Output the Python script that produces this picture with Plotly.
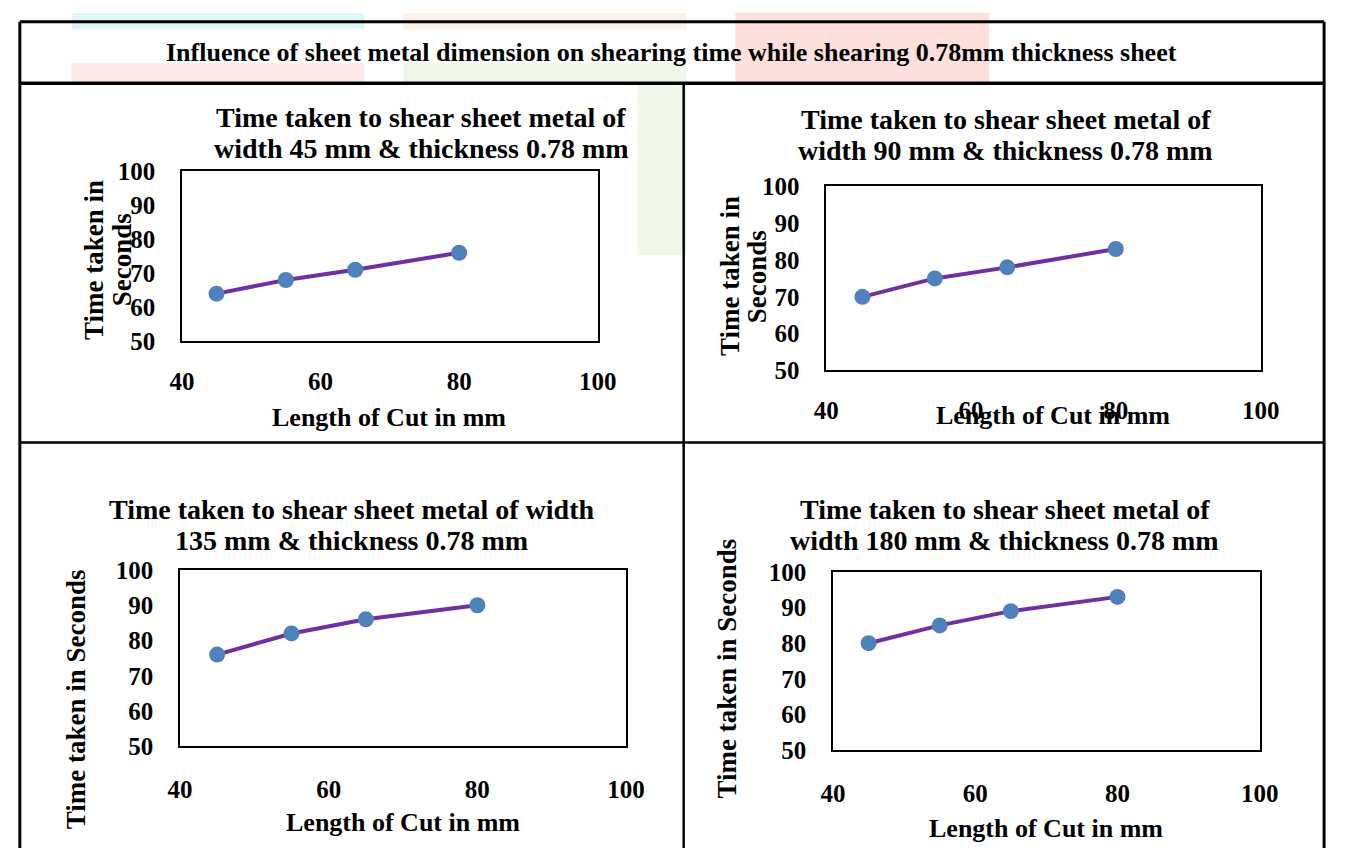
import plotly.graph_objects as go

# ---------------- data ----------------
length_mm = [45, 55, 65, 80]
time_w45 = [64, 68, 71, 76]
time_w90 = [70, 75, 78, 83]
time_w135 = [76, 82, 86, 90]
time_w180 = [80, 85, 89, 93]
x_ticks = [40, 60, 80, 100]
y_ticks = [50, 60, 70, 80, 90, 100]
main_title = "Influence of sheet metal dimension on shearing time while shearing 0.78mm thickness sheet"
chart_titles = [
    ["Time taken to shear sheet metal of", "width 45 mm & thickness 0.78 mm"],
    ["Time taken to shear sheet metal of", "width 90 mm & thickness 0.78 mm"],
    ["Time taken to shear sheet metal of width", "135 mm & thickness 0.78 mm"],
    ["Time taken to shear sheet metal of", "width 180 mm & thickness 0.78 mm"],
]
y_titles = [["Time taken in", "Seconds"], ["Time taken in", "Seconds"],
            ["Time taken in Seconds"], ["Time taken in Seconds"]]
x_title = "Length of Cut in mm"
series = [time_w45, time_w90, time_w135, time_w180]

# ---------------- layout helpers ----------------
W, H = 1347, 862
FONT = "Liberation Serif"


def px(x):
    return x / W


def py(y):
    return 1 - y / H


# plot boxes in pixels: left, top, right, bottom
boxes = [(173, 163, 599, 339), (833, 179, 1278, 369),
         (171, 575, 628, 757), (840, 577, 1277, 761)]
# title centre x, line y's
title_pos = [(418, 108, 140), (1017, 110, 142), (347, 513, 545), (1016, 513, 545)]
xtitle_pos = [(385, 418), (1065, 416), (399, 836), (1058, 842)]
# y-title: centre y, list of line x's
ytitle_pos = [(255, [83, 112]), (272, [735, 763]), (708, [64]), (677, [731])]
x_standoff = [17, 17, 20, 20]

fig = go.Figure()
annotations = []
layout_axes = {}


def ann(text, x, y, size, angle=0):
    annotations.append(dict(
        text=text, x=px(x), y=py(y), xref="paper", yref="paper",
        showarrow=False, textangle=angle,
        font=dict(family=FONT, size=size, color="black", weight="bold"),
        xanchor="center", yanchor="middle", align="center",
    ))


for i, (ys, box) in enumerate(zip(series, boxes)):
    n = "" if i == 0 else str(i + 1)
    fig.add_trace(go.Scatter(
        x=length_mm, y=ys, mode="lines+markers",
        line=dict(color="#7030A0", width=4),
        marker=dict(color="#4F81BD", size=16),
        xaxis="x" + n, yaxis="y" + n, showlegend=False,
    ))
    l, t, r, b = box
    tickfont = dict(family=FONT, size=25, color="black", weight="bold")
    layout_axes["xaxis" + n] = dict(
        domain=[px(l), px(r)], range=[40, 100], tickvals=x_ticks,
        anchor="y" + n, showgrid=False, zeroline=False,
        showline=True, linecolor="black", linewidth=1.5, mirror=True,
        ticks="", tickfont=tickfont, ticklabelstandoff=x_standoff[i],
    )
    layout_axes["yaxis" + n] = dict(
        domain=[py(b), py(t)], range=[50, 100], tickvals=y_ticks,
        anchor="x" + n, showgrid=False, zeroline=False,
        showline=True, linecolor="black", linewidth=1.5, mirror=True,
        ticks="", tickfont=tickfont, ticklabelstandoff=20,
    )
    tx, ty1, ty2 = title_pos[i]
    ann(chart_titles[i][0], tx, ty1, 28)
    ann(chart_titles[i][1], tx, ty2, 28)
    xx, xy = xtitle_pos[i]
    ann(x_title, xx, xy, 26)
    yy, xs = ytitle_pos[i]
    for line_text, lx in zip(y_titles[i], xs):
        ann(line_text, lx, yy, 27, angle=-90)

ann(main_title, 675, 41, 26)

shapes = []
# faint watermark blocks behind the table
wm = [
    (60, 0, 360, 17, "#dcf8fb"), (400, 0, 690, 17, "#fdf0e6"),
    (60, 52, 360, 73, "#fde8e8"), (400, 52, 690, 73, "#f0f9e9"),
    (640, 73, 690, 250, "#f0f9e9"), (740, 0, 1000, 73, "#fde0db"),
]
for x0, y0, x1, y1, c in wm:
    shapes.append(dict(type="rect", xref="paper", yref="paper",
                       x0=px(x0), x1=px(x1), y0=py(y1), y1=py(y0),
                       fillcolor=c, line=dict(width=0), layer="below"))
# table grid lines
grid = [
    (7, 9, 1343, 9, 3), (7, 72.5, 1343, 72.5, 3.5),
    (7, 443.5, 1343, 443.5, 2.5),
    (7, 9, 7, 862, 3), (1343, 9, 1343, 862, 3),
    (687, 72, 687, 862, 2.5),
]
for x0, y0, x1, y1, w in grid:
    shapes.append(dict(type="line", xref="paper", yref="paper",
                       x0=px(x0), x1=px(x1), y0=py(y0), y1=py(y1),
                       line=dict(color="black", width=w)))
# white plot-area backgrounds
for l, t, r, b in boxes:
    shapes.append(dict(type="rect", xref="paper", yref="paper",
                       x0=px(l), x1=px(r), y0=py(b), y1=py(t),
                       fillcolor="white", line=dict(width=0), layer="below"))

fig.update_layout(
    width=W, height=H, margin=dict(l=0, r=0, t=0, b=0),
    paper_bgcolor="white", plot_bgcolor="rgba(0,0,0,0)",
    annotations=annotations, shapes=shapes, showlegend=False,
    **layout_axes,
)
fig.write_html("out.html")
